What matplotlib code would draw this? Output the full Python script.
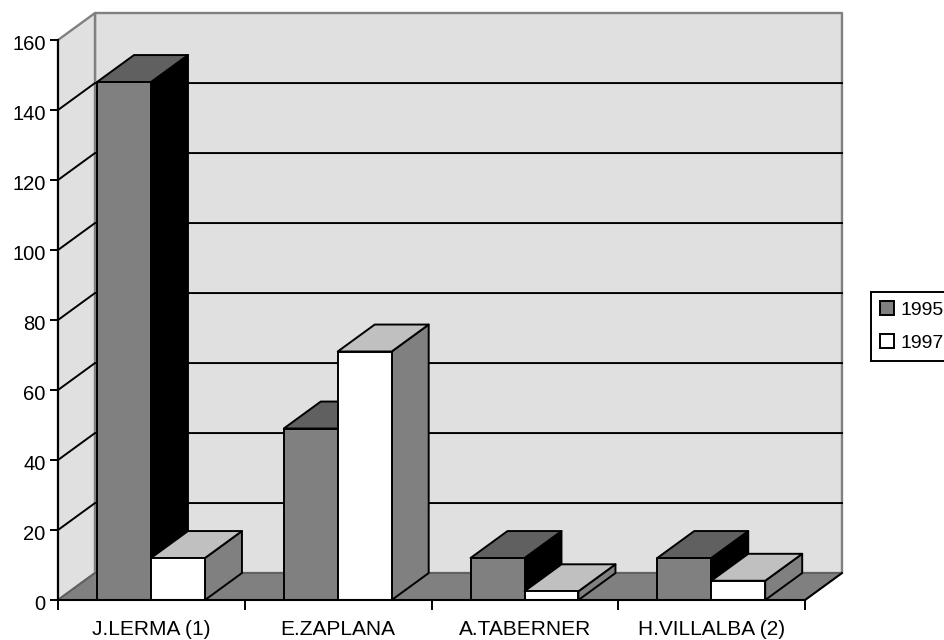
import matplotlib
matplotlib.use('Agg')
import matplotlib.pyplot as plt
from matplotlib.patches import Polygon, Patch
from matplotlib.transforms import ScaledTranslation

plt.rcParams['font.family'] = ['Liberation Sans', 'DejaVu Sans']

categories = ['J.LERMA (1)', 'E.ZAPLANA', 'A.TABERNER', 'H.VILLALBA (2)']
values_1995 = [148, 49, 12, 12]
values_1997 = [12, 71, 2.5, 5.5]
y_ticks = [0, 20, 40, 60, 80, 100, 120, 140, 160]

# depth of the fake 3d box, in axis units
DEPTH_X = 0.198
DEPTH_Y = 7.7
BAR_W = 0.289
GAP = 0.209
LW = 1.4


def poly(ax, pts, color, edge='black', lw=LW, z=2):
    ax.add_patch(Polygon(pts, closed=True, facecolor=color, edgecolor=edge,
                         linewidth=lw, joinstyle='round', clip_on=False, zorder=z))


def draw_bar(ax, x, h, front, top, side, z):
    x2 = x + BAR_W
    poly(ax, [(x2, 0), (x2 + DEPTH_X, DEPTH_Y), (x2 + DEPTH_X, h + DEPTH_Y), (x2, h)], side, z=z)
    poly(ax, [(x, h), (x + DEPTH_X, h + DEPTH_Y), (x2 + DEPTH_X, h + DEPTH_Y), (x2, h)], top, z=z)
    poly(ax, [(x, 0), (x, h), (x2, h), (x2, 0)], front, z=z)


fig = plt.figure(figsize=(9.44, 6.4), dpi=100)
ax = fig.add_axes([58 / 944, 40 / 640, 747 / 944, 560 / 640])
ax.set_xlim(0, len(categories))
ax.set_ylim(0, 160)
ax.patch.set_visible(False)

n = len(categories)
top = y_ticks[-1]

# walls and floor
poly(ax, [(DEPTH_X, DEPTH_Y), (DEPTH_X, top + DEPTH_Y), (n + DEPTH_X, top + DEPTH_Y), (n + DEPTH_X, DEPTH_Y)],
     '#E0E0E0', edge='#808080', lw=1.7, z=1)
poly(ax, [(0, 0), (0, top), (DEPTH_X, top + DEPTH_Y), (DEPTH_X, DEPTH_Y)], '#E0E0E0', edge='#808080', lw=1.7, z=1)
poly(ax, [(0, 0), (DEPTH_X, DEPTH_Y), (n + DEPTH_X, DEPTH_Y), (n, 0)], '#808080', edge='#606060', lw=LW, z=1)
ax.plot([n, n + DEPTH_X], [0, DEPTH_Y], color='black', lw=LW, clip_on=False, zorder=1.5)

# gridlines on side wall and back wall
for t in y_ticks[1:-1]:
    ax.plot([0, DEPTH_X, n + DEPTH_X], [t, t + DEPTH_Y, t + DEPTH_Y], color='black', lw=LW,
            clip_on=False, zorder=1.5)

for i in range(n):
    x = i + GAP
    draw_bar(ax, x, values_1995[i], '#808080', '#606060', 'black', 3 + i)
    draw_bar(ax, x + BAR_W, values_1997[i], 'white', '#C0C0C0', '#808080', 3.5 + i)

for s in ['top', 'right']:
    ax.spines[s].set_visible(False)
for s in ['left', 'bottom']:
    ax.spines[s].set_linewidth(1.5)
    ax.spines[s].set_zorder(20)

ax.set_yticks(y_ticks)
ax.tick_params(axis='y', length=6, width=LW, labelsize=14.5, pad=3)
# the y labels sit a little under their ticks in the original
down = ScaledTranslation(0, -3 / 100, fig.dpi_scale_trans)
for label in ax.get_yticklabels():
    label.set_transform(label.get_transform() + down)

ax.set_xticks(range(n + 1))
ax.set_xticklabels([])
ax.set_xticks([i + 0.5 for i in range(n)], labels=categories, minor=True)
ax.tick_params(axis='x', which='major', length=7, width=LW)
ax.tick_params(axis='x', which='minor', length=0, labelsize=15, pad=14.5)

handles = [Patch(facecolor='#808080', edgecolor='black', linewidth=LW, label='1995'),
           Patch(facecolor='white', edgecolor='black', linewidth=LW, label='1997')]
fig.legend(handles=handles, loc='upper left', bbox_to_anchor=(871 / 944, 1 - 292 / 640), borderaxespad=0,
           fontsize=14, fancybox=False, framealpha=1, edgecolor='black', handlelength=0.75, handleheight=0.75,
           handletextpad=0.3, borderpad=0.45, labelspacing=0.8).get_frame().set_linewidth(LW)

fig.savefig('out.png', dpi=100)
